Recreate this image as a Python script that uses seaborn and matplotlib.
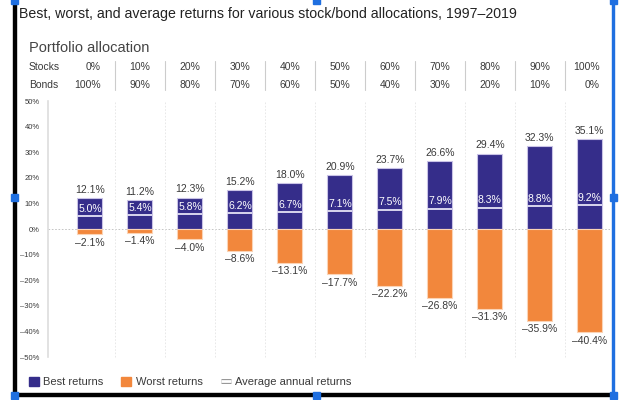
import matplotlib
matplotlib.use("Agg")
import matplotlib.pyplot as plt
import matplotlib.transforms as mtransforms
import matplotlib.patheffects as pe
from matplotlib.patches import Patch, Rectangle
from matplotlib.lines import Line2D
import seaborn as sns
import numpy as np
import pandas as pd

# data
stocks = ['0%', '10%', '20%', '30%', '40%', '50%', '60%', '70%', '80%', '90%', '100%']
bonds = ['100%', '90%', '80%', '70%', '60%', '50%', '40%', '30%', '20%', '10%', '0%']
best = [12.1, 11.2, 12.3, 15.2, 18.0, 20.9, 23.7, 26.6, 29.4, 32.3, 35.1]
average = [5.0, 5.4, 5.8, 6.2, 6.7, 7.1, 7.5, 7.9, 8.3, 8.8, 9.2]
worst = [-2.1, -1.4, -4.0, -8.6, -13.1, -17.7, -22.2, -26.8, -31.3, -35.9, -40.4]
yticks = [50, 40, 30, 20, 10, 0, -10, -20, -30, -40, -50]

navy = '#352d8a'
orange = '#f2873c'
edge = '#c9c3e6'
txt = '#3a3a3a'

sns.set_style('white')
plt.rcParams['font.family'] = ['Liberation Sans', 'DejaVu Sans']

df = pd.DataFrame({'alloc': stocks, 'best': best, 'avg': average, 'worst': worst})

fig = plt.figure(figsize=(6.21, 4.0), dpi=100)
ax = fig.add_axes([0.0773, 0.1075, 0.9047, 0.64])

sns.barplot(data=df, x='alloc', y='best', color=navy, width=0.5, saturation=1,
            edgecolor=edge, linewidth=0.8, ax=ax)
sns.barplot(data=df, x='alloc', y='worst', color=orange, width=0.5, saturation=1,
            edgecolor='#fbd3b5', linewidth=0.8, ax=ax)

x = np.arange(len(stocks))
ax.hlines(df['avg'], x - 0.25, x + 0.25, color='#d9d6ee', linewidth=1.4, zorder=5)

for i in x:
    ax.text(i, best[i] + 1.3, f'{best[i]:.1f}%', ha='center', va='bottom',
            fontsize=7.5, color=txt)
    ax.text(i, average[i] + 0.9, f'{average[i]:.1f}%', ha='center', va='bottom',
            fontsize=7.5, color='white', zorder=6)
    ax.text(i, worst[i] - 1.3, f'\u2013{abs(worst[i]):.1f}%', ha='center', va='top',
            fontsize=7.5, color=txt)

ax.set_xlim(-0.84, 10.4)
ax.set_ylim(-50, 50)
ax.set_yticks(yticks)
ax.set_yticklabels([f'\u2013{-v}%' if v < 0 else f'{v}%' for v in yticks],
                   fontsize=5.5, color=txt)
ax.tick_params(axis='y', length=0, pad=6)
ax.set_xticks([])
ax.set_xlabel('')
ax.set_ylabel('')
for s in ['top', 'right', 'bottom']:
    ax.spines[s].set_visible(False)
ax.spines['left'].set_color('#dddddd')
ax.spines['left'].set_linewidth(1.2)
ax.axhline(0, color='#bbbbbb', linestyle=(0, (2, 2)), linewidth=0.6, zorder=0)

# column separators
sep = mtransforms.blended_transform_factory(ax.transData, ax.transAxes)
for p in x[:-1] + 0.5:
    ax.plot([p, p], [0, 1.0], transform=sep, color='#e4e4e4', linestyle=(0, (2, 2)),
            linewidth=0.6, zorder=0, clip_on=False)
    ax.plot([p, p], [1.043, 1.156], transform=sep, color='#cccccc', linewidth=0.8,
            clip_on=False)

# header rows
hdr = mtransforms.blended_transform_factory(ax.transData, fig.transFigure)
y_st, y_bd = 1 - 67 / 400, 1 - 85 / 400
fig.text(29 / 621, y_st, 'Stocks', fontsize=7.5, color=txt, va='center')
fig.text(29 / 621, y_bd, 'Bonds', fontsize=7.5, color=txt, va='center')
for i in x:
    if i == 0:
        ha, xp = 'right', 0.22
    elif i == len(stocks) - 1:
        ha, xp = 'right', 10.2
    else:
        ha, xp = 'center', i
    ax.text(xp, y_st, stocks[i], transform=hdr, ha=ha, va='center', fontsize=7.5, color=txt)
    ax.text(xp, y_bd, bonds[i], transform=hdr, ha=ha, va='center', fontsize=7.5, color=txt)

fig.text(29 / 621, 1 - 48 / 400, 'Portfolio allocation', fontsize=10.5, color='#444444',
         va='center')
fig.text(19 / 621, 1 - 14 / 400,
         'Best, worst, and average returns for various stock/bond allocations, 1997\u20132019',
         fontsize=10.2, color='#222222', va='center')

avg_handle = Line2D([], [], color='white', linewidth=2.0, solid_capstyle='butt',
                    path_effects=[pe.Stroke(linewidth=3.4, foreground='#888888',
                                            capstyle='butt'), pe.Normal()])
handles = [Patch(facecolor=navy, edgecolor=navy),
           Patch(facecolor=orange, edgecolor=orange),
           avg_handle]
labels = ['Best returns', 'Worst returns', 'Average annual returns']
fig.legend(handles, labels, loc='center left', bbox_to_anchor=(19 / 621, 1 - 382 / 400),
           ncol=3, frameon=False, fontsize=8, handlelength=0.9, handleheight=0.9,
           columnspacing=1.6, handletextpad=0.4, labelcolor=txt)

# screenshot frame
fig.add_artist(Rectangle((13 / 621, 1 - 395 / 400), 3 / 621, 395 / 400,
                         transform=fig.transFigure, color='black'))
fig.add_artist(Rectangle((13 / 621, 1 - 396 / 400), 600 / 621, 3 / 400,
                         transform=fig.transFigure, color='black'))
fig.add_artist(Rectangle((612 / 621, 0), 1.5 / 621, 1,
                         transform=fig.transFigure, color='#1f6fe0'))
for hx, hy in [(14, 0), (316, 0), (613, 0), (14, 197), (613, 197),
               (14, 395), (316, 395), (613, 395)]:
    fig.add_artist(Rectangle(((hx - 3.5) / 621, 1 - (hy + 3.5) / 400), 7 / 621, 7 / 400,
                             transform=fig.transFigure, color='#1f6fe0'))

fig.savefig('out.png', dpi=100)
